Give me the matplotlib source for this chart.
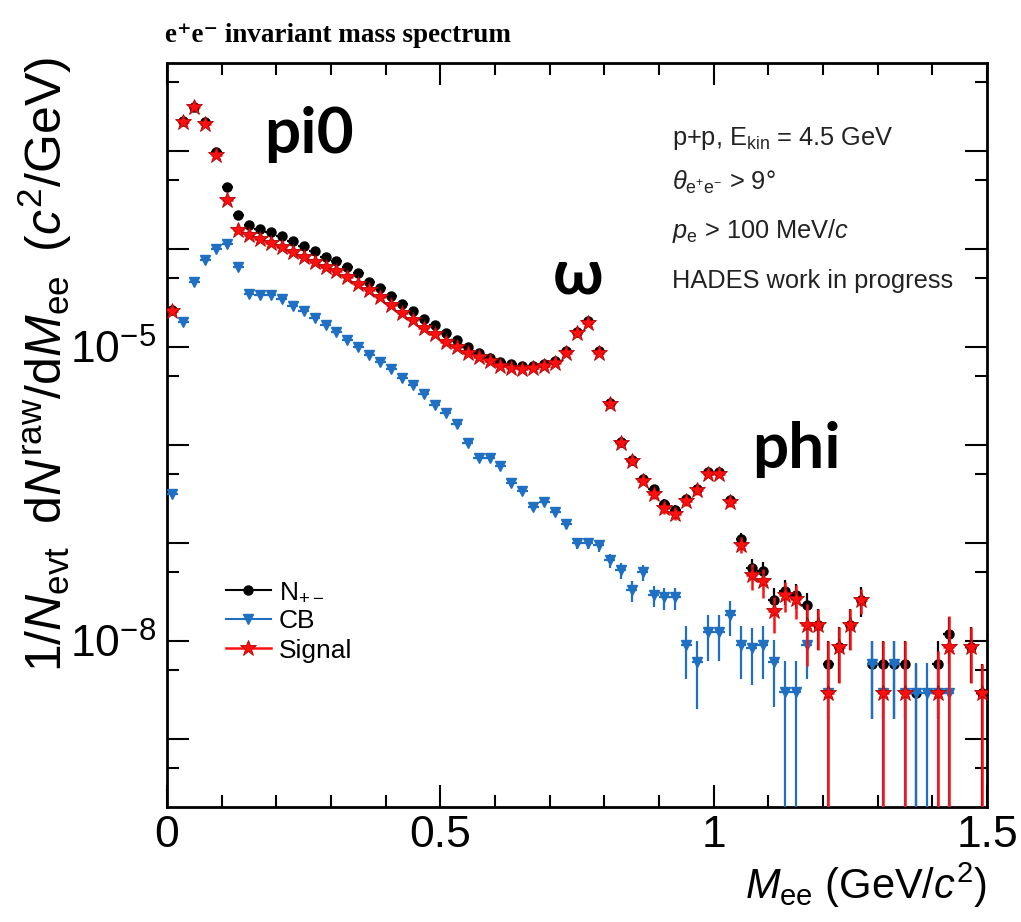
import numpy as np
import matplotlib
matplotlib.use('Agg')
import matplotlib.pyplot as plt
from matplotlib.lines import Line2D
from matplotlib.ticker import FixedLocator, FuncFormatter, MultipleLocator

plt.rcParams['font.family'] = ['Liberation Sans', 'DejaVu Sans']
plt.rcParams['mathtext.fontset'] = 'custom'
plt.rcParams['mathtext.rm'] = 'Liberation Sans'
plt.rcParams['mathtext.it'] = 'Liberation Sans:italic'
plt.rcParams['mathtext.bf'] = 'Liberation Sans:bold'

nan = np.nan

# bin centres, 20 MeV bins from 0 to 1.5 GeV
mass = np.round(np.arange(0.01, 1.50, 0.02), 2)

# N+- (same-event pairs)
n_pm = [2.39e-5, 2.01e-3, 2.83e-3, 1.96e-3, 9.74e-4, 4.27e-4, 2.24e-4, 1.77e-4, 1.60e-4, 1.48e-4,
        1.34e-4, 1.20e-4, 1.08e-4, 9.6e-5, 8.34e-5, 7.47e-5, 6.59e-5, 5.63e-5, 4.55e-5, 4.02e-5,
        3.33e-5, 2.74e-5, 2.31e-5, 1.93e-5, 1.66e-5, 1.37e-5, 1.18e-5, 1.0e-5, 8.74e-6, 7.77e-6,
        7.07e-6, 6.65e-6, 6.39e-6, 6.39e-6, 6.65e-6, 7.19e-6, 9.1e-6, 1.42e-5, 1.82e-5, 9.0e-6,
        2.67e-6, 1.078e-6, 7.06e-7, 4.45e-7, 3.52e-7, 2.49e-7, 2.18e-7, 2.78e-7, 3.56e-7, 5.25e-7,
        5.25e-7, 2.72e-7, 1.08e-7, 5.56e-8, 5.1e-8, 2.62e-8, 3.23e-8, 2.94e-8, 2.32e-8, 1.45e-8,
        5.8e-9, 8.7e-9, 1.45e-8, 2.62e-8, 5.8e-9, 5.8e-9, 5.8e-9, 5.8e-9, 2.9e-9, nan,
        5.8e-9, 1.16e-8, nan, 8.7e-9, 2.9e-9]
# combinatorial background
cb = [3.11e-7, 1.80e-5, 4.55e-5, 7.77e-5, 1.0e-4, 1.125e-4, 6.59e-5, 3.46e-5, 3.37e-5, 3.37e-5,
      3.04e-5, 2.63e-5, 2.32e-5, 1.96e-5, 1.68e-5, 1.42e-5, 1.18e-5, 1.0e-5, 8.28e-6, 7.07e-6,
      5.91e-6, 4.85e-6, 4.08e-6, 3.28e-6, 2.55e-6, 2.13e-6, 1.62e-6, 1.05e-6, 7.36e-7, 7.26e-7,
      6.05e-7, 4.08e-7, 3.36e-7, 2.32e-7, 2.59e-7, 2.07e-7, 1.55e-7, 9.9e-8, 9.9e-8, 9.4e-8,
      6.6e-8, 5.22e-8, 3.26e-8, 4.98e-8, 2.9e-8, 2.76e-8, 2.76e-8, 9.06e-9, 6.0e-9, 1.22e-8,
      1.22e-8, 1.81e-8, 9.06e-9, 8.5e-9, 9.06e-9, 6.1e-9, 3.0e-9, 3.0e-9, 9.06e-9, nan,
      2.9e-9, nan, nan, nan, 5.8e-9, 2.9e-9, 5.8e-9, 2.9e-9, 2.9e-9, 2.9e-9,
      2.9e-9, 2.9e-9, nan, nan, nan]
# signal = N+- - CB
signal = [2.34e-5, 1.98e-3, 2.79e-3, 1.90e-3, 9.0e-4, 3.12e-4, 1.54e-4, 1.39e-4, 1.27e-4, 1.14e-4,
          1.04e-4, 9.2e-5, 8.2e-5, 7.3e-5, 6.5e-5, 5.9e-5, 5.1e-5, 4.4e-5, 3.8e-5, 3.25e-5,
          2.69e-5, 2.23e-5, 1.87e-5, 1.55e-5, 1.35e-5, 1.125e-5, 1.0e-5, 8.7e-6, 7.9e-6, 7.19e-6,
          6.39e-6, 6.05e-6, 5.91e-6, 6.05e-6, 6.39e-6, 6.91e-6, 8.74e-6, 1.375e-5, 1.77e-5, 8.74e-6,
          2.59e-6, 1.048e-6, 6.81e-7, 4.25e-7, 3.15e-7, 2.27e-7, 1.97e-7, 2.65e-7, 3.41e-7, 5.05e-7,
          5.05e-7, 2.59e-7, 9.56e-8, 4.72e-8, 4.03e-8, 1.99e-8, 2.94e-8, 2.68e-8, 1.45e-8, 1.45e-8,
          2.89e-9, 8.7e-9, 1.45e-8, 2.62e-8, nan, 2.89e-9, nan, 2.89e-9, nan, nan,
          2.89e-9, 8.7e-9, nan, 8.7e-9, 2.89e-9]

# statistical errors, only the tail (M > 0.8 GeV) is large enough to show
n_pm_err_tail = [8.8e-8, 5.6e-8, 4.5e-8, 3.6e-8, 3.2e-8, 2.7e-8, 2.5e-8, 2.8e-8, 3.2e-8, 3.9e-8,
                 3.9e-8, 2.8e-8, 1.8e-8, 1.2e-8, 1.2e-8, 8e-9, 9e-9, 8.5e-9, 7.5e-9, 6.5e-9,
                 4.2e-9, 5e-9, 6.5e-9, 8.7e-9, 4.2e-9, 4.2e-9, 4.2e-9, 4.2e-9, 2.9e-9, 0,
                 4.2e-9, 5.8e-9, 0, 5e-9, 2.9e-9]
cb_err_tail = [1.1e-8, 1.0e-8, 8e-9, 9e-9, 7e-9, 7e-9, 7e-9, 5e-9, 4e-9, 6e-9,
               6e-9, 7e-9, 5e-9, 5e-9, 5e-9, 4e-9, 3.2e-9, 3.2e-9, 5e-9, 0,
               3e-9, 0, 0, 0, 4.2e-9, 3e-9, 4.2e-9, 3e-9, 3e-9, 3e-9,
               3e-9, 3e-9, 0, 0, 0]
cb_err_mid = [5e-8, 4e-8, 4e-8, 3.5e-8, 2.8e-8, 2.5e-8, 2.0e-8, 2.1e-8, 1.9e-8, 1.6e-8,
              1.3e-8, 1.3e-8, 1.3e-8]
signal_err_tail = [9e-8, 5.8e-8, 4.6e-8, 3.8e-8, 3.3e-8, 2.9e-8, 2.7e-8, 2.9e-8, 3.3e-8, 4e-8,
                   4e-8, 3e-8, 1.8e-8, 1.4e-8, 1.3e-8, 8e-9, 1.0e-8, 1.0e-8, 9e-9, 6.5e-9,
                   7e-9, 5e-9, 6.5e-9, 7.5e-9, 0, 7e-9, 0, 7e-9, 0, 0,
                   5e-9, 9e-9, 0, 5e-9, 2.9e-9]

n_tail = len(n_pm_err_tail)
n_pm_err = np.r_[np.zeros(len(mass) - n_tail), n_pm_err_tail]
signal_err = np.r_[np.zeros(len(mass) - n_tail), signal_err_tail]
cb_err = np.r_[np.zeros(len(mass) - n_tail - len(cb_err_mid)), cb_err_mid, cb_err_tail]

BLUE = '#1f6fc2'
RED = '#ff1010'

W, H = 1021, 922
fig = plt.figure(figsize=(W / 100, H / 100), dpi=100)
ax = fig.add_axes([167 / W, 1 - 807 / H, 820 / W, 744 / H])
ax.set_yscale('log', nonpositive='clip')

ax.errorbar(mass, n_pm, yerr=n_pm_err, xerr=0.01, fmt='o', color='black', ms=6.5,
            elinewidth=1.6, capsize=0, zorder=3)
ax.errorbar(mass, cb, yerr=cb_err, xerr=0.01, fmt='v', color=BLUE, ms=6.5,
            elinewidth=1.6, capsize=0, zorder=4)
ax.errorbar(mass, signal, yerr=signal_err, xerr=0.01, fmt='*', color=RED, ms=12,
            mec='#b00000', mew=0.6, ecolor=RED, elinewidth=1.8, capsize=0, zorder=5)

ax.set_xlim(0, 1.5)
ax.set_ylim(2e-10, 7.9e-3)

ax.xaxis.set_major_locator(MultipleLocator(0.5))
ax.xaxis.set_minor_locator(MultipleLocator(0.1))
ax.xaxis.set_major_formatter(FuncFormatter(lambda v, p: f'{v:g}'))
ax.yaxis.set_major_locator(FixedLocator([10.0 ** k for k in range(-10, -1)]))
ax.yaxis.set_minor_locator(FixedLocator([5 * 10.0 ** k for k in range(-11, -2)]))
ax.yaxis.set_major_formatter(FuncFormatter(
    lambda v, p: r'$10^{%d}$' % round(np.log10(v)) if round(np.log10(v)) in (-5, -8) else ''))
ax.yaxis.set_minor_formatter(FuncFormatter(lambda v, p: ''))

ax.tick_params(which='both', direction='in', top=True, right=True, width=1.5)
ax.tick_params(which='major', length=16)
ax.tick_params(which='minor', length=8.5)
ax.tick_params(axis='x', which='major', labelsize=32, pad=6)
ax.tick_params(axis='y', which='major', labelsize=32, pad=8)
for s in ax.spines.values():
    s.set_linewidth(2)

fig.text(45 / W, 1 - 365 / H,
         r'$1/N_{\mathrm{evt}}\;\;\mathrm{d}N^{\mathrm{raw}}/\mathrm{d}M_{\mathrm{ee}}\;\;(c^{2}/\mathrm{GeV})$',
         rotation=90, ha='center', va='center', fontsize=36)
fig.text(987 / W, 1 - 885 / H, r'$M_{\mathrm{ee}}\ (\mathrm{GeV}/c^{2})$',
         ha='right', va='center', fontsize=30)

fig.text(165 / W, 1 - 36 / H, 'e\u207ae\u207b invariant mass spectrum', fontsize=19.5,
         fontweight='bold', family=['Liberation Serif', 'DejaVu Serif'], va='center')

info = [r'p+p, E$_{\mathrm{kin}}$ = 4.5 GeV',
        r'$\theta_{\mathrm{e^{+}e^{-}}}$ > 9°',
        r'$p_{\mathrm{e}}$ > 100 MeV/$c$',
        'HADES work in progress']
for txt, yb in zip(info, [145, 190, 238, 288]):
    fig.text(672 / W, 1 - yb / H, txt, fontsize=18.3, color='#222222', va='baseline')

for txt, xl, yb in [('pi0', 264, 153), ('\u03c9', 553, 293), ('phi', 752, 468)]:
    fig.text(xl / W, 1 - yb / H, txt, fontsize=46, fontweight='bold',
             family=['Lato', 'Noto Sans', 'DejaVu Sans'], va='baseline')

handles = [Line2D([], [], color='black', marker='o', ms=6.5, lw=1.5),
           Line2D([], [], color=BLUE, marker='v', ms=6.5, lw=1.5),
           Line2D([], [], color=RED, marker='*', ms=12, mec='#b00000', mew=0.6, lw=1.8)]
fig.legend(handles, [r'N$_{+-}$', 'CB', 'Signal'], loc='upper left',
           bbox_to_anchor=(226 / W, 1 - 580 / H), frameon=False, fontsize=19,
           borderpad=0, borderaxespad=0, handlelength=1.7, handletextpad=0.3,
           labelspacing=0.2)

fig.savefig('out.png', dpi=100)
